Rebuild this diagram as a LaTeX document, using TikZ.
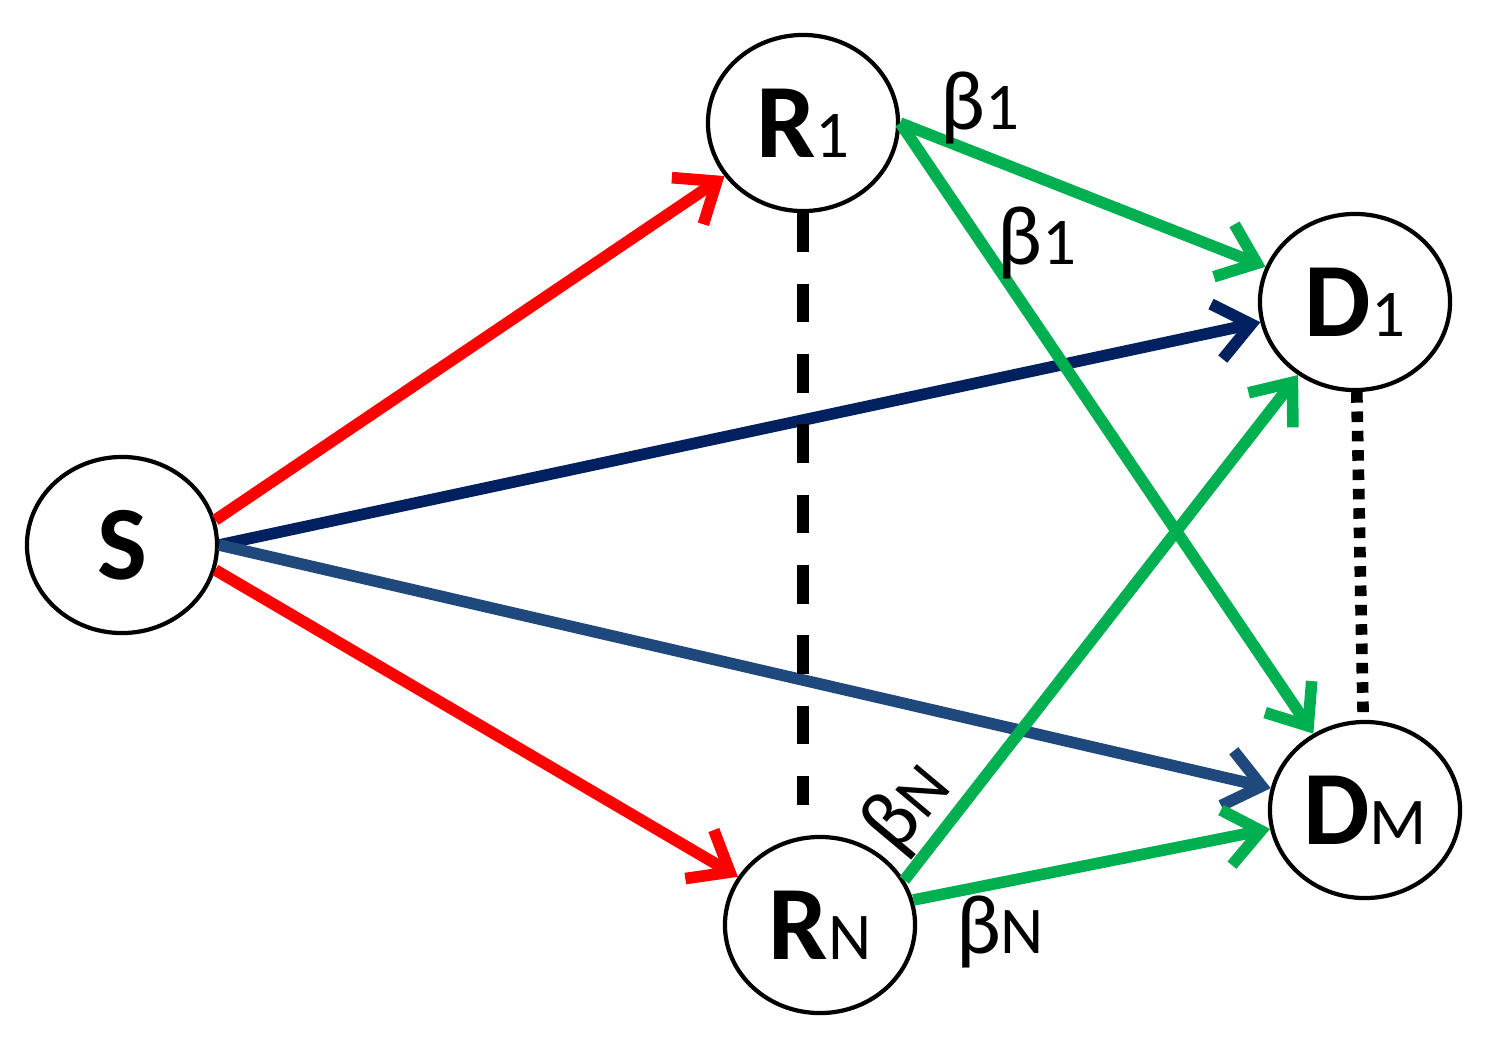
\documentclass[tikz,border=0pt]{standalone}
\usepackage{fontspec}
\setmainfont{Carlito}
\usetikzlibrary{shapes.geometric,arrows.meta}
\definecolor{gr}{RGB}{0,176,80}
\definecolor{nv}{RGB}{0,32,96}
\definecolor{bl}{RGB}{31,73,125}
\newcommand{\subf}[1]{{\fontsize{19}{20}\selectfont\mdseries #1}}
\begin{document}
\begin{tikzpicture}[x=0.01cm,y=-0.01cm,
  nd/.style={ellipse,draw,line width=1.2pt,minimum width=1.9cm,minimum height=1.76cm,inner sep=0pt,font=\fontsize{30}{32}\selectfont\bfseries},
  ar/.style={line width=3.3pt,-{Straight Barb[length=10pt,width=16pt,line width=3.3pt]}},
  bt/.style={font=\fontsize{24}{26}\selectfont}]
\useasboundingbox (0,0) rectangle (1497,1045);
\node[nd] (S) at (122,545) {S};
\node[nd] (R1) at (803,123) {R\subf{1}};
\node[nd] (RN) at (820,925) {R\subf{N}};
\node[nd] (D1) at (1355,302) {D\subf{1}};
\node[nd] (DM) at (1365,810) {D\subf{M}};
\draw[ar,red] (S.15) -- (R1);
\draw[ar,red] (S.-15) -- (RN);
\draw[ar,nv] (S.east) -- (D1);
\draw[ar,bl] (S.east) -- (DM);
\draw[ar,gr] (R1.east) -- (D1);
\draw[ar,gr] (R1.east) -- (DM);
\draw[ar,gr] (RN.28) -- (D1);
\draw[ar,gr] (RN.15) -- (DM);
\draw[line width=3.3pt,dash pattern=on 11pt off 9pt] (R1) -- (803,805);
\draw[line width=3.3pt,dash pattern=on 3pt off 2.5pt] (D1) -- (DM);
\node[bt] (b1) at (980,108) {β\subf{1}};
\node[bt] (b2) at (1037,243) {β\subf{1}};
\node[bt,rotate=50] (b3) at (908,808) {β\subf{N}};
\node[bt] (b4) at (1000,932) {β\subf{N}};
\end{tikzpicture}
\end{document}
